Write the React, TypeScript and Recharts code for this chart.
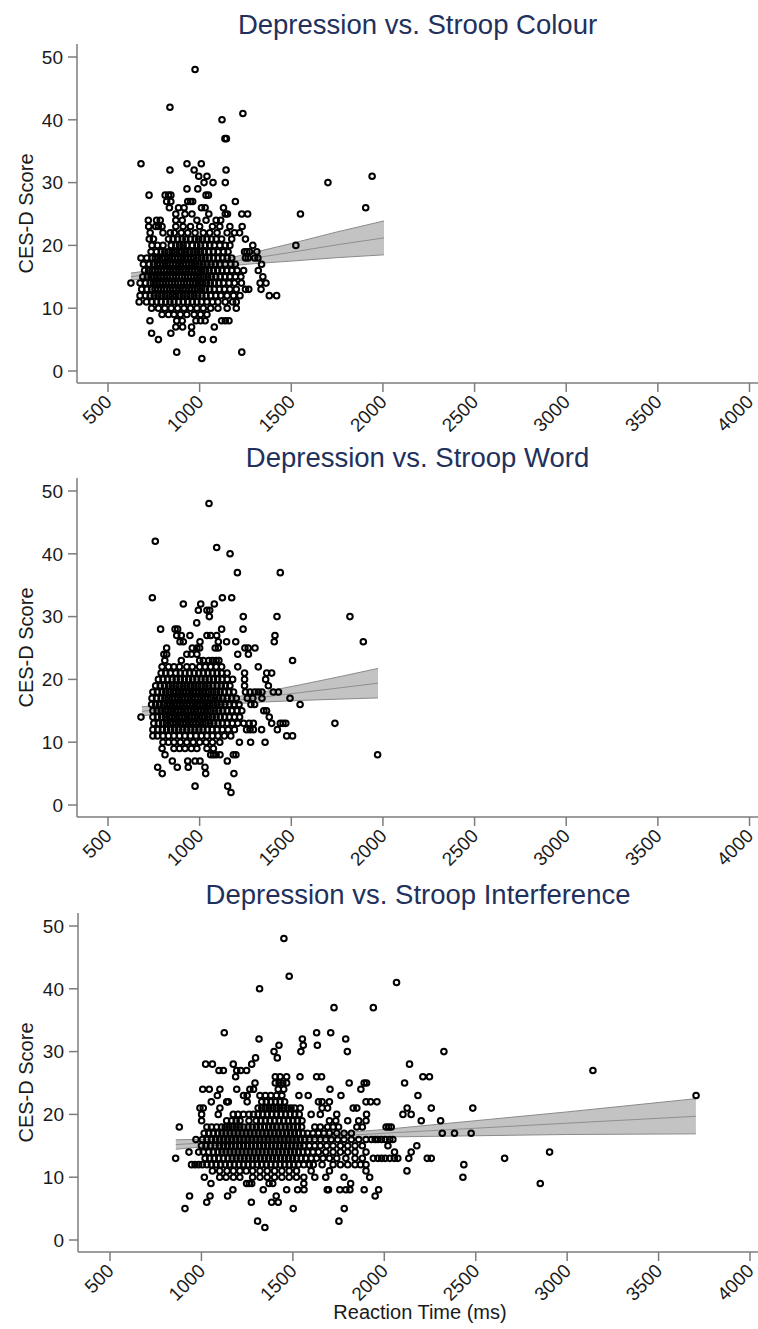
import React from 'react';
import { ComposedChart, Scatter, Area, Line, XAxis, YAxis, Label } from 'recharts';

const xTicks = [500, 1000, 1500, 2000, 2500, 3000, 3500, 4000];
const yTicks = [0, 10, 20, 30, 40, 50];

const titles = ['Depression vs. Stroop Colour', 'Depression vs. Stroop Word', 'Depression vs. Stroop Interference'];
const yLabel = 'CES-D Score';
const xLabel = 'Reaction Time (ms)';

// rows: [CES-D score, reaction times]
const colourRows: [number, number[]][] = [
  [48, [975]],
  [42, [838]],
  [41, [1236]],
  [40, [1122]],
  [37, [1138, 1146]],
  [33, [680, 931, 1009]],
  [32, [838, 970, 1144]],
  [31, [995, 1040, 1941]],
  [30, [1024, 1073, 1140, 1700]],
  [29, [931, 990]],
  [28, [724, 812, 830, 843, 1035, 1048]],
  [27, [820, 843, 935, 950, 962, 1195]],
  [26, [835, 885, 915, 1010, 1030, 1130, 1906]],
  [25, [870, 920, 958, 1050, 1140, 1152, 1230, 1262, 1550]],
  [24, [720, 765, 785, 870, 905, 985, 1035, 1090, 1115]],
  [23, [722, 760, 775, 795, 870, 910, 950, 1000, 1070, 1110, 1165, 1232]],
  [22, [730, 800, 840, 862, 900, 935, 975, 1020, 1055, 1095, 1150, 1190, 1218]],
  [21, [725, 748, 830, 855, 880, 905, 925, 950, 975, 995, 1015, 1040, 1065, 1090, 1120, 1175, 1250]],
  [20, [740, 770, 800, 845, 870, 890, 910, 930, 960, 985, 1005, 1030, 1055, 1080, 1110, 1140, 1165, 1290, 1525]],
  [19, [735, 765, 790, 810, 830, 850, 868, 888, 905, 925, 945, 965, 985, 1005, 1025, 1050, 1075, 1100, 1130, 1155, 1245, 1258, 1272, 1312]],
  [18, [680, 712, 740, 758, 775, 795, 812, 830, 848, 865, 882, 900, 918, 935, 952, 970, 990, 1010, 1030, 1052, 1075, 1100, 1125, 1150, 1175, 1250, 1265, 1300, 1318]],
  [17, [693, 725, 748, 768, 785, 802, 820, 838, 855, 872, 890, 908, 925, 942, 960, 978, 998, 1018, 1040, 1062, 1085, 1110, 1140, 1170, 1195, 1338]],
  [16, [700, 722, 740, 755, 772, 790, 806, 822, 840, 857, 873, 890, 907, 923, 940, 957, 975, 993, 1012, 1032, 1052, 1075, 1098, 1122, 1148, 1175, 1205, 1240, 1320]],
  [15, [690, 715, 735, 752, 770, 787, 803, 820, 837, 853, 870, 887, 903, 920, 937, 953, 970, 988, 1006, 1025, 1045, 1065, 1088, 1112, 1138, 1165, 1195, 1225, 1345]],
  [14, [625, 675, 705, 730, 748, 765, 782, 798, 815, 832, 848, 865, 882, 898, 915, 932, 948, 965, 982, 1000, 1018, 1037, 1058, 1080, 1105, 1130, 1160, 1190, 1228, 1330, 1362]],
  [13, [684, 712, 738, 756, 773, 790, 807, 823, 840, 857, 873, 890, 907, 923, 940, 957, 975, 993, 1012, 1032, 1055, 1080, 1108, 1135, 1165, 1200, 1250, 1268, 1335]],
  [12, [675, 705, 730, 752, 772, 792, 812, 832, 852, 870, 890, 910, 930, 950, 970, 990, 1012, 1035, 1060, 1088, 1115, 1150, 1185, 1220, 1380, 1420]],
  [11, [670, 710, 740, 765, 790, 815, 838, 860, 885, 910, 935, 960, 985, 1010, 1040, 1070, 1100, 1140, 1180, 1200]],
  [10, [738, 775, 810, 845, 880, 915, 950, 985, 1020, 1060, 1100, 1150, 1200]],
  [9, [795, 830, 860, 895, 930, 970, 1005, 1040]],
  [8, [729, 875, 905, 980, 1005, 1030, 1120, 1140, 1160]],
  [7, [870, 907, 956, 1080]],
  [6, [738, 843, 956]],
  [5, [775, 1015, 1075]],
  [3, [875, 1230]],
  [2, [1012]],
];

const wordRows: [number, number[]][] = [
  [48, [1051]],
  [42, [758]],
  [41, [1093]],
  [40, [1166]],
  [37, [1206, 1440]],
  [33, [742, 1124, 1175]],
  [32, [911, 1006, 1080]],
  [31, [993, 1040, 1055]],
  [30, [1053, 1238, 1422, 1820]],
  [29, [984]],
  [28, [787, 866, 880, 1120, 1237]],
  [27, [875, 900, 947, 1040, 1060, 1093, 1411]],
  [26, [893, 911, 1002, 1102, 1147, 1197, 1407, 1893]],
  [25, [820, 960, 985, 1000, 1085, 1102, 1247, 1265, 1302]],
  [24, [805, 820, 930, 955, 985, 1208, 1266]],
  [23, [810, 900, 1000, 1020, 1050, 1070, 1090, 1105, 1507]],
  [22, [795, 830, 860, 890, 930, 960, 1000, 1030, 1060, 1090, 1120, 1208, 1320]],
  [21, [790, 815, 840, 870, 895, 920, 945, 970, 995, 1020, 1045, 1070, 1095, 1120, 1150, 1245, 1366, 1393]],
  [20, [775, 800, 825, 850, 872, 895, 917, 940, 962, 985, 1008, 1030, 1052, 1075, 1098, 1122, 1150, 1180, 1245, 1360]],
  [19, [760, 785, 808, 830, 850, 870, 890, 910, 930, 950, 970, 990, 1010, 1030, 1050, 1072, 1095, 1118, 1140, 1165, 1245, 1375]],
  [18, [745, 770, 795, 815, 835, 855, 872, 890, 908, 926, 944, 962, 980, 998, 1016, 1034, 1052, 1072, 1092, 1112, 1135, 1160, 1185, 1250, 1275, 1300, 1320, 1340, 1402, 1430]],
  [17, [740, 765, 790, 810, 830, 848, 866, 884, 902, 920, 938, 956, 974, 992, 1010, 1028, 1046, 1064, 1084, 1104, 1126, 1150, 1175, 1200, 1260, 1290, 1340, 1493]],
  [16, [738, 760, 782, 803, 822, 840, 858, 876, 894, 912, 930, 948, 966, 984, 1002, 1020, 1038, 1056, 1075, 1095, 1116, 1138, 1162, 1188, 1215, 1280, 1300, 1548]],
  [15, [745, 768, 790, 810, 828, 846, 864, 882, 900, 918, 936, 954, 972, 990, 1008, 1026, 1044, 1063, 1083, 1104, 1126, 1150, 1176, 1204, 1230, 1350, 1365]],
  [14, [680, 745, 770, 793, 813, 832, 850, 868, 886, 904, 922, 940, 958, 976, 994, 1012, 1030, 1049, 1069, 1090, 1112, 1136, 1162, 1190, 1218, 1380]],
  [13, [750, 775, 798, 818, 837, 855, 873, 891, 909, 927, 945, 963, 981, 999, 1017, 1036, 1056, 1077, 1100, 1124, 1150, 1178, 1208, 1240, 1270, 1293, 1393, 1440, 1455, 1470, 1738]],
  [12, [745, 772, 797, 820, 842, 864, 886, 908, 930, 952, 974, 996, 1018, 1042, 1068, 1095, 1124, 1155, 1190, 1256, 1275, 1293, 1338, 1424]],
  [11, [745, 770, 800, 830, 860, 890, 920, 950, 980, 1010, 1040, 1070, 1100, 1135, 1170, 1475, 1507]],
  [10, [800, 830, 860, 895, 930, 965, 1000, 1035, 1070, 1110, 1217, 1278, 1357]],
  [9, [795, 860, 890, 920, 955, 985, 1040, 1075]],
  [8, [811, 1060, 1075, 1090, 1111, 1184, 1198, 1971]],
  [7, [851, 935, 975, 1002, 1151]],
  [6, [771, 878, 938, 1029]],
  [5, [796, 1033, 1187]],
  [3, [975, 1153]],
  [2, [1171]],
];

const interfRows: [number, number[]][] = [
  [48, [1451]],
  [42, [1480]],
  [41, [2067]],
  [40, [1318]],
  [37, [1725, 1940]],
  [33, [1125, 1630, 1707]],
  [32, [1315, 1552, 1789]],
  [31, [1424, 1557, 1634]],
  [30, [1397, 1544, 1798, 2326]],
  [29, [1296, 1415]],
  [28, [1023, 1060, 1174, 1275, 2138]],
  [27, [1096, 1120, 1193, 1215, 1247, 3141]],
  [26, [1187, 1404, 1430, 1466, 1539, 1630, 1657, 2211, 2247]],
  [25, [1293, 1404, 1425, 1445, 1466, 1808, 1890, 1903, 2111]],
  [24, [1007, 1043, 1101, 1193, 1265, 1285, 1420, 1450, 1703, 1872]],
  [23, [1087, 1230, 1250, 1320, 1350, 1380, 1410, 1440, 1533, 1584, 1763, 2184, 3705]],
  [22, [1054, 1138, 1147, 1250, 1330, 1355, 1380, 1405, 1430, 1455, 1640, 1660, 1700, 1900, 1925, 1960]],
  [21, [992, 1010, 1101, 1310, 1330, 1350, 1370, 1390, 1410, 1430, 1450, 1470, 1490, 1510, 1540, 1660, 1690, 1830, 1850, 2125, 2257, 2484]],
  [20, [1001, 1092, 1174, 1200, 1230, 1260, 1285, 1310, 1335, 1360, 1385, 1410, 1435, 1460, 1485, 1510, 1535, 1600, 1650, 1740, 1903, 2102, 2147]],
  [19, [1001, 1138, 1165, 1190, 1211, 1260, 1300, 1325, 1350, 1375, 1400, 1425, 1450, 1475, 1500, 1525, 1550, 1700, 1735, 1800, 1860, 1900, 2202, 2308]],
  [18, [879, 1030, 1055, 1083, 1110, 1130, 1150, 1170, 1190, 1210, 1232, 1255, 1278, 1300, 1322, 1345, 1368, 1390, 1412, 1435, 1458, 1480, 1502, 1525, 1548, 1620, 1650, 1690, 1720, 1750, 1850, 1880, 2010, 2024, 2038]],
  [17, [1015, 1040, 1065, 1090, 1112, 1134, 1156, 1178, 1200, 1222, 1244, 1266, 1288, 1310, 1332, 1354, 1376, 1398, 1420, 1442, 1464, 1486, 1508, 1530, 1555, 1580, 1610, 1640, 1670, 1700, 1740, 1780, 1820, 2317, 2384, 2475]],
  [16, [970, 1005, 1030, 1055, 1078, 1100, 1122, 1144, 1166, 1188, 1210, 1232, 1254, 1276, 1298, 1320, 1342, 1364, 1386, 1408, 1430, 1452, 1474, 1496, 1518, 1540, 1565, 1590, 1620, 1650, 1680, 1710, 1745, 1780, 1820, 1860, 1900, 1930, 1950, 1965, 1985, 2005, 2030, 2047]],
  [15, [1000, 1025, 1050, 1075, 1098, 1120, 1142, 1164, 1186, 1208, 1230, 1252, 1274, 1296, 1318, 1340, 1362, 1384, 1406, 1428, 1450, 1472, 1494, 1516, 1538, 1560, 1590, 1620, 1650, 1685, 1720, 1760, 1800, 1840, 1880, 2020, 2178]],
  [14, [932, 985, 1010, 1040, 1065, 1090, 1112, 1134, 1156, 1178, 1200, 1222, 1244, 1266, 1288, 1310, 1332, 1354, 1376, 1398, 1420, 1442, 1464, 1486, 1508, 1530, 1555, 1580, 1610, 1640, 1680, 1720, 1760, 1800, 1840, 1900, 2056, 2147, 2904]],
  [13, [859, 1020, 1045, 1070, 1095, 1120, 1145, 1168, 1190, 1212, 1234, 1256, 1278, 1300, 1322, 1344, 1366, 1388, 1410, 1432, 1454, 1476, 1498, 1520, 1545, 1570, 1600, 1630, 1665, 1700, 1740, 1790, 1840, 1880, 1940, 1965, 1985, 2005, 2030, 2055, 2074, 2134, 2235, 2257, 2658]],
  [12, [946, 965, 985, 1005, 1030, 1055, 1080, 1105, 1130, 1155, 1180, 1205, 1230, 1255, 1280, 1305, 1330, 1355, 1380, 1405, 1430, 1455, 1480, 1505, 1530, 1560, 1590, 1612, 1660, 1720, 1760, 1800, 1840, 1870, 1900, 2435]],
  [11, [1060, 1100, 1140, 1175, 1210, 1245, 1280, 1320, 1360, 1400, 1440, 1480, 1520, 1600, 1700, 1900, 2124]],
  [10, [1016, 1100, 1135, 1175, 1210, 1280, 1320, 1360, 1400, 1440, 1480, 1520, 1560, 1620, 1680, 1780, 1920, 2430]],
  [9, [1052, 1247, 1262, 1275, 1370, 1390, 1560, 1816, 2853]],
  [8, [1172, 1338, 1466, 1526, 1561, 1688, 1695, 1757, 1790, 1812, 1890, 1969]],
  [7, [935, 1047, 1143, 1409, 1950]],
  [6, [1029, 1273, 1384, 1420]],
  [5, [910, 1502, 1781]],
  [3, [1307, 1752]],
  [2, [1347]],
];

// regression fit line with confidence band
const colourBandX = [625, 800, 950, 1100, 1300, 1500, 1750, 2006];
const colourBandFit = [15.0, 15.8, 16.5, 17.1, 18.0, 18.9, 20.1, 21.2];
const colourBandLow = [14.4, 15.35, 16.1, 16.6, 17.1, 17.5, 18.05, 18.5];
const colourBandHigh = [15.6, 16.25, 16.9, 17.6, 18.9, 20.3, 22.15, 23.9];

const wordBandX = [685, 850, 1000, 1150, 1350, 1550, 1750, 1973];
const wordBandFit = [14.9, 15.5, 16.0, 16.5, 17.2, 17.9, 18.6, 19.4];
const wordBandLow = [14.15, 15.0, 15.6, 16.05, 16.4, 16.65, 16.85, 17.05];
const wordBandHigh = [15.65, 16.0, 16.4, 16.95, 18.0, 19.15, 20.35, 21.75];

const interfBandX = [860, 1100, 1400, 1700, 2000, 2500, 3000, 3704];
const interfBandFit = [15.2, 15.6, 16.1, 16.5, 17.0, 17.8, 18.6, 19.7];
const interfBandLow = [14.45, 15.1, 15.75, 16.1, 16.4, 16.6, 16.8, 16.9];
const interfBandHigh = [15.95, 16.1, 16.45, 16.9, 17.6, 19.0, 20.4, 22.5];

const toPoints = (rows: [number, number[]][]) =>
  rows.flatMap(([y, xs]) => xs.map((x) => ({ x, y })));

const toBand = (xs: number[], fit: number[], lo: number[], hi: number[]) =>
  xs.map((x, i) => ({ x, fit: fit[i], range: [lo[i], hi[i]] }));

const FONT = '"Liberation Sans", Arial, Helvetica, sans-serif';
const AXIS = '#7d7d7d';
const TEXT = '#1a1a1a';

const XTick = (props: any) => {
  const { x, y, payload } = props;
  return (
    <text
      x={0}
      y={0}
      textAnchor="end"
      fontSize={19}
      fontFamily={FONT}
      fill={TEXT}
      transform={`translate(${x + 5},${y + 9}) rotate(-45)`}
    >
      {payload.value}
    </text>
  );
};

const YTitle = (props: any) => {
  const vb = props.viewBox;
  const cx = 26;
  const cy = vb.y + vb.height / 2;
  return (
    <text
      x={cx}
      y={cy}
      dy="0.36em"
      textAnchor="middle"
      fontSize={20}
      fontFamily={FONT}
      fill={TEXT}
      transform={`rotate(-90 ${cx} ${cy})`}
    >
      {yLabel}
    </text>
  );
};

const XTitle = (props: any) => {
  const vb = props.viewBox;
  const cx = vb.x + vb.width / 2 + 2;
  const cy = vb.y + 60;
  return (
    <text x={cx} y={cy} dy="0.36em" textAnchor="middle" fontSize={20} fontFamily={FONT} fill={TEXT}>
      {xLabel}
    </text>
  );
};

const Dot = (p: any) => (
  <circle cx={p.cx} cy={p.cy} r={2.8} fill="none" stroke="#000" strokeWidth={2.0} />
);

type PanelProps = {
  top: number;
  height: number;
  bottomMargin: number;
  axisHeight: number;
  title: string;
  titleTop: number;
  rows: [number, number[]][];
  band: { x: number; fit: number; range: number[] }[];
  axisLeft: number;
  xDomain: [number, number];
  showXLabel?: boolean;
};

const Panel = ({ top, height, bottomMargin, axisHeight, title, titleTop, rows, band, axisLeft, xDomain, showXLabel }: PanelProps) => {
  const points = toPoints(rows);
  return (
    <div style={{ position: 'absolute', left: 0, top, width: 758, height }}>
      <div
        style={{
          position: 'absolute',
          left: axisLeft,
          width: 758 - axisLeft,
          top: titleTop,
          textAlign: 'center',
          fontFamily: FONT,
          fontSize: 27.5,
          lineHeight: '32px',
          color: '#22305c',
          whiteSpace: 'nowrap',
        }}
      >
        {title}
      </div>
      <ComposedChart
        width={758}
        height={height}
        data={band}
        margin={{ top: 44, right: 0, bottom: bottomMargin, left: 0 }}
      >
        <XAxis
          type="number"
          dataKey="x"
          domain={xDomain}
          allowDataOverflow
          ticks={xTicks}
          interval={0}
          height={axisHeight}
          tickSize={9}
          stroke={AXIS}
          strokeWidth={1.5}
          tick={<XTick />}
        >
          {showXLabel ? <Label content={<XTitle />} /> : null}
        </XAxis>
        <YAxis
          type="number"
          dataKey="y"
          domain={[-1.91, 52.07]}
          allowDataOverflow
          ticks={yTicks}
          interval={0}
          width={axisLeft}
          tickSize={9}
          tickMargin={5}
          stroke={AXIS}
          strokeWidth={1.5}
          tick={{ fontSize: 19, fill: TEXT, fontFamily: FONT }}
        >
          <Label content={<YTitle />} />
        </YAxis>
        <Area
          type="linear"
          dataKey="range"
          fill="#c3c3c3"
          fillOpacity={1}
          stroke="#8a8a8a"
          strokeWidth={1}
          isAnimationActive={false}
          dot={false}
          activeDot={false}
        />
        <Line
          type="linear"
          dataKey="fit"
          stroke="#8f8f8f"
          strokeWidth={1}
          dot={false}
          activeDot={false}
          isAnimationActive={false}
        />
        <Scatter data={points} dataKey="y" shape={<Dot />} isAnimationActive={false} />
      </ComposedChart>
    </div>
  );
};

export default function App() {
  return (
    <div style={{ position: 'absolute', left: 0, top: 0, width: 758, height: 1329, background: '#fff', overflow: 'hidden' }}>
      <Panel
        top={0}
        height={460}
        bottomMargin={26}
        axisHeight={51}
        title={titles[0]}
        titleTop={9}
        rows={colourRows}
        band={toBand(colourBandX, colourBandFit, colourBandLow, colourBandHigh)}
        axisLeft={77}
        xDomain={[330.9, 4046.3]}
      />
      <Panel
        top={434}
        height={460}
        bottomMargin={26}
        axisHeight={51}
        title={titles[1]}
        titleTop={8}
        rows={wordRows}
        band={toBand(wordBandX, wordBandFit, wordBandLow, wordBandHigh)}
        axisLeft={77}
        xDomain={[330.9, 4046.3]}
      />
      <Panel
        top={869}
        height={460}
        bottomMargin={0}
        axisHeight={77}
        title={titles[2]}
        titleTop={10}
        rows={interfRows}
        band={toBand(interfBandX, interfBandFit, interfBandLow, interfBandHigh)}
        axisLeft={78}
        xDomain={[325, 4043.7]}
        showXLabel
      />
    </div>
  );
}
